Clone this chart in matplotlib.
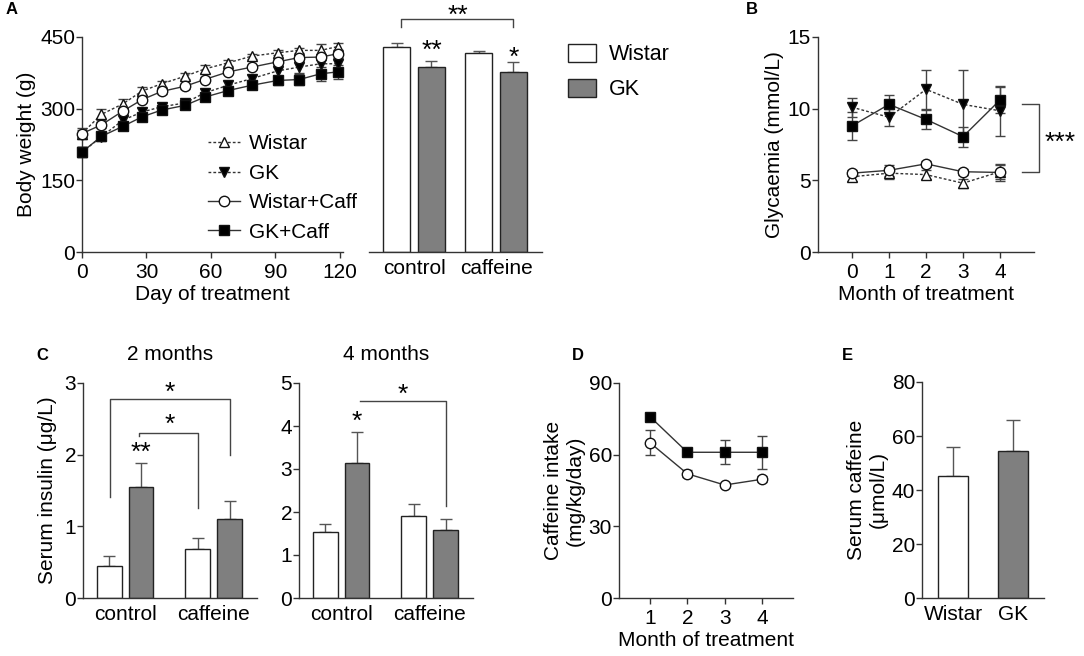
import numpy as np
import matplotlib as mpl
mpl.use('Agg')
import matplotlib.pyplot as plt
from matplotlib.patches import Patch
from matplotlib.lines import Line2D

plt.rcParams['font.family'] = ['Liberation Sans', 'DejaVu Sans']
plt.rcParams['font.size'] = 15

# ---- data ----
days = [0, 9, 19, 28, 37, 48, 57, 68, 79, 91, 101, 111, 119]
bw_wistar = [248, 288, 310, 337, 352, 368, 383, 396, 410, 417, 422, 422, 430]
bw_wistar_err = [12, 12, 10, 8, 6, 6, 8, 6, 5, 5, 5, 14, 8]
bw_gk = [209, 241, 276, 293, 304, 312, 333, 349, 363, 379, 387, 394, 394]
bw_gk_err = [10, 8, 8, 8, 8, 8, 8, 8, 8, 12, 12, 15, 12]
bw_wcaff = [248, 266, 295, 319, 336, 347, 361, 377, 387, 398, 407, 408, 415]
bw_wcaff_err = [8, 6, 6, 6, 5, 5, 5, 5, 5, 5, 5, 5, 8]
bw_gkcaff = [209, 242, 263, 283, 297, 307, 324, 338, 349, 359, 361, 373, 377]
bw_gkcaff_err = [10, 8, 8, 8, 8, 8, 8, 10, 8, 10, 12, 15, 15]

groups = ['control', 'caffeine']
bwbar_wistar = [429, 416]
bwbar_wistar_err = [9, 5]
bwbar_gk = [387, 377]
bwbar_gk_err = [13, 21]

months_b = [0, 1, 2, 3, 4]
gly_wistar = [5.25, 5.5, 5.4, 4.8, 5.6]
gly_wistar_err = [0.3, 0.4, 0.3, 0.3, 0.5]
gly_gk = [10.1, 9.4, 11.35, 10.3, 9.85]
gly_gk_err = [0.65, 0.6, 1.35, 2.4, 1.75]
gly_wcaff = [5.5, 5.7, 6.15, 5.6, 5.55]
gly_wcaff_err = [0.2, 0.4, 0.2, 0.2, 0.6]
gly_gkcaff = [8.8, 10.3, 9.25, 8.05, 10.6]
gly_gkcaff_err = [1.0, 0.65, 0.65, 0.7, 0.9]

ins2_wistar = [0.45, 0.68]
ins2_wistar_err = [0.14, 0.16]
ins2_gk = [1.55, 1.10]
ins2_gk_err = [0.34, 0.25]
ins4_wistar = [1.53, 1.91]
ins4_wistar_err = [0.19, 0.27]
ins4_gk = [3.15, 1.59]
ins4_gk_err = [0.71, 0.25]

months_d = [1, 2, 3, 4]
intake_wcaff = [65, 52, 47.3, 49.7]
intake_wcaff_err = [5.3, 1.5, 0.8, 1.2]
intake_gkcaff = [75.9, 61, 61, 61]
intake_gkcaff_err = [1.0, 1.0, 5.0, 7.0]

caff_groups = ['Wistar', 'GK']
serum_caff = [45.1, 54.3]
serum_caff_err = [10.7, 11.7]

# ---- layout helpers ----
W, H = 1084, 656
fig = plt.figure(figsize=(W / 100, H / 100), dpi=100)
AX = '#333333'
GRAY = '#7f7f7f'
FS = 15
STAR = 19


def add_ax(l, t, r, b):
    return fig.add_axes([l / W, 1 - b / H, (r - l) / W, (b - t) / H])


def style(ax, hide_left=False):
    for s in ['top', 'right']:
        ax.spines[s].set_visible(False)
    for s in ['left', 'bottom']:
        ax.spines[s].set_color(AX)
        ax.spines[s].set_linewidth(1.0)
    ax.tick_params(direction='out', length=4, width=1.0, color=AX, labelsize=FS)
    ax.tick_params(axis='x', pad=4)
    ax.tick_params(axis='y', pad=1)
    if hide_left:
        ax.spines['left'].set_visible(False)
        ax.tick_params(axis='y', left=False, labelleft=False)


def bars(ax, wistar, wistar_err, gk, gk_err, off, width):
    x = np.arange(len(wistar))
    ax.bar(x - off, wistar, width, color='white', edgecolor='#222222', linewidth=1.0, zorder=2)
    ax.bar(x + off, gk, width, color=GRAY, edgecolor='#222222', linewidth=1.0, zorder=2)
    ax.errorbar(x - off, wistar, yerr=[np.zeros(len(wistar)), wistar_err], fmt='none',
                ecolor='#555555', elinewidth=1.0, capsize=4, capthick=1.0, zorder=1)
    ax.errorbar(x + off, gk, yerr=[np.zeros(len(gk)), gk_err], fmt='none',
                ecolor='#555555', elinewidth=1.0, capsize=4, capthick=1.0, zorder=1)
    ax.set_xticks(x)
    ax.set_xticklabels(groups)
    ax.tick_params(axis='x', length=0, pad=5)
    return x


def bracket(ax, x0, x1, y, y0, y1):
    ax.plot([x0, x0, x1, x1], [y0, y, y, y1], color='#444444', lw=1.0, clip_on=False)


def line(ax, x, y, err, marker, ls, mfc):
    ax.errorbar(x, y, yerr=err, color='#333333', ecolor='#444444', lw=1.0, ls=ls,
                marker=marker, ms=7.5, mfc=mfc, mec='#111111', mew=1.0,
                capsize=3.5, capthick=1.0, elinewidth=1.0, clip_on=False, zorder=3)


dash = (0, (2, 1.5))
series_style = [('Wistar', '^', dash, 'white'), ('GK', 'v', dash, 'black'),
                ('Wistar+Caff', 'o', '-', 'white'), ('GK+Caff', 's', '-', 'black')]

# ---- Panel A: body weight lines ----
axA = add_ax(82, 37, 343, 252)
style(axA)
for (name, m, ls, fc), vals, errs in zip(series_style,
                                         [bw_wistar, bw_gk, bw_wcaff, bw_gkcaff],
                                         [bw_wistar_err, bw_gk_err, bw_wcaff_err, bw_gkcaff_err]):
    line(axA, days, vals, errs, m, ls, fc)
axA.set_xlim(0, 121.4)
axA.set_ylim(0, 450)
axA.set_xticks([0, 30, 60, 90, 120])
axA.set_yticks([0, 150, 300, 450])
axA.set_xlabel('Day of treatment', fontsize=FS, labelpad=2)
axA.set_ylabel('Body weight (g)', fontsize=FS, labelpad=3)
leg_lines = [Line2D([], [], color='#333333', lw=1.0, ls=ls, marker=m, ms=7.5, mfc=fc,
                    mec='#111111', mew=1.0) for _, m, ls, fc in series_style]
axA.legend(leg_lines, [s[0] for s in series_style], loc='upper left',
           bbox_to_anchor=(198 / W, 1 - 124 / H),
           bbox_transform=fig.transFigure, frameon=False, fontsize=FS,
           handlelength=1.5, handletextpad=0.45, labelspacing=0.5, borderpad=0)

# ---- Panel A: body weight bars ----
axAb = add_ax(369, 37, 542, 252)
style(axAb, hide_left=True)
bars(axAb, bwbar_wistar, bwbar_wistar_err, bwbar_gk, bwbar_gk_err, 0.213, 0.34)
axAb.set_xlim(-0.549, 1.561)
axAb.set_ylim(0, 450)
bracket(axAb, -0.16, 1.213, 488, 471, 471)
axAb.text(0.53, 495, '**', ha='center', va='center', fontsize=STAR)
axAb.text(0.213, 420, '**', ha='center', va='center', fontsize=STAR)
axAb.text(1.213, 407, '*', ha='center', va='center', fontsize=STAR)
leg_h = [Patch(facecolor='white', edgecolor='#222222', lw=1.0),
         Patch(facecolor=GRAY, edgecolor='#222222', lw=1.0)]
axAb.legend(leg_h, ['Wistar', 'GK'], loc='upper left', bbox_to_anchor=(557 / W, 1 - 33 / H),
            bbox_transform=fig.transFigure, frameon=False, fontsize=FS + 0.5,
            handlelength=1.3, handleheight=0.9, handletextpad=0.6, labelspacing=0.65, borderpad=0)

# ---- Panel B: glycaemia ----
axB = add_ax(818, 37, 1034, 252)
style(axB)
for (name, m, ls, fc), vals, errs in zip(series_style,
                                         [gly_wistar, gly_gk, gly_wcaff, gly_gkcaff],
                                         [gly_wistar_err, gly_gk_err, gly_wcaff_err, gly_gkcaff_err]):
    line(axB, months_b, vals, errs, m, ls, fc)
axB.set_xlim(-0.92, 4.92)
axB.set_ylim(0, 15)
axB.set_xticks(months_b)
axB.set_yticks([0, 5, 10, 15])
axB.set_xlabel('Month of treatment', fontsize=FS, labelpad=2)
axB.set_ylabel('Glycaemia (mmol/L)', fontsize=FS, labelpad=3)
axB.plot([4.59, 5.05, 5.05, 4.59], [10.33, 10.33, 5.58, 5.58], color='#444444', lw=1.0, clip_on=False)
axB.text(5.63, 7.6, '***', ha='center', va='center', fontsize=STAR)

# ---- Panel C: insulin 2 months ----
axC1 = add_ax(83, 383, 257, 598)
style(axC1)
bars(axC1, ins2_wistar, ins2_wistar_err, ins2_gk, ins2_gk_err, 0.18, 0.28)
axC1.set_xlim(-0.475, 1.49)
axC1.set_ylim(0, 3)
axC1.set_yticks([0, 1, 2, 3])
axC1.set_ylabel('Serum insulin (μg/L)', fontsize=FS, labelpad=5)
bracket(axC1, -0.17, 1.18, 2.78, 1.41, 2.0)
bracket(axC1, 0.16, 0.82, 2.30, 2.26, 1.26)
axC1.text(0.5, 2.86, '*', ha='center', va='center', fontsize=STAR)
axC1.text(0.5, 2.42, '*', ha='center', va='center', fontsize=STAR)
axC1.text(0.18, 2.03, '**', ha='center', va='center', fontsize=STAR)
fig.text(170 / W, 1 - 355 / H, '2 months', ha='center', va='center', fontsize=FS)

# ---- Panel C: insulin 4 months ----
axC2 = add_ax(299, 383, 473, 598)
style(axC2)
bars(axC2, ins4_wistar, ins4_wistar_err, ins4_gk, ins4_gk_err, 0.18, 0.28)
axC2.set_xlim(-0.475, 1.49)
axC2.set_ylim(0, 5)
axC2.set_yticks([0, 1, 2, 3, 4, 5])
bracket(axC2, 0.21, 1.18, 4.58, 4.58, 2.14)
axC2.text(0.70, 4.72, '*', ha='center', va='center', fontsize=STAR)
axC2.text(0.18, 4.1, '*', ha='center', va='center', fontsize=STAR)
fig.text(386 / W, 1 - 355 / H, '4 months', ha='center', va='center', fontsize=FS)

# ---- Panel D: caffeine intake ----
axD = add_ax(619, 383, 793, 598)
style(axD)
line(axD, months_d, intake_wcaff, intake_wcaff_err, 'o', '-', 'white')
line(axD, months_d, intake_gkcaff, intake_gkcaff_err, 's', '-', 'black')
axD.set_xlim(0.17, 4.83)
axD.set_ylim(0, 90)
axD.set_xticks(months_d)
axD.set_yticks([0, 30, 60, 90])
axD.set_xlabel('Month of treatment', fontsize=FS, labelpad=2)
axD.set_ylabel('Caffeine intake\n(mg/kg/day)', fontsize=FS, labelpad=3)

# ---- Panel E: serum caffeine ----
axE = add_ax(922, 382, 1044, 598)
style(axE)
xe = np.arange(len(caff_groups))
axE.bar(xe, serum_caff, 0.5, color=['white', GRAY], edgecolor='#222222', linewidth=1.0, zorder=2)
axE.errorbar(xe, serum_caff, yerr=[np.zeros(2), serum_caff_err], fmt='none', ecolor='#555555',
             elinewidth=1.0, capsize=5, capthick=1.0, zorder=1)
axE.set_xticks(xe)
axE.set_xticklabels(caff_groups)
axE.tick_params(axis='x', length=0, pad=5)
axE.set_xlim(-0.517, 1.517)
axE.set_ylim(0, 80)
axE.set_yticks([0, 20, 40, 60, 80])
axE.set_ylabel('Serum caffeine\n(μmol/L)', fontsize=FS, labelpad=3)

# ---- panel letters ----
for lab, px, py in [('A', 6, 10), ('B', 746, 10), ('C', 36, 356), ('D', 572, 356), ('E', 842, 356)]:
    fig.text(px / W, 1 - py / H, lab, ha='left', va='center', fontsize=12, fontweight='bold')

fig.savefig('out.png', dpi=100)
